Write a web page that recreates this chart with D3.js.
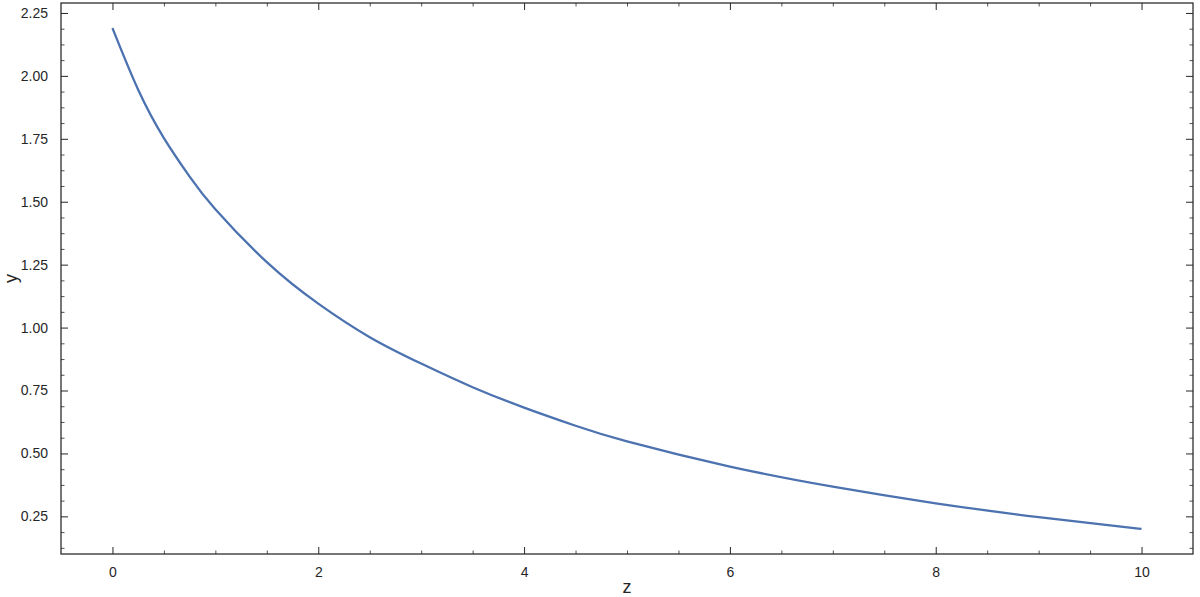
<!DOCTYPE html>
<html>
<head>
<meta charset="utf-8">
<script src="https://cdn.jsdelivr.net/npm/d3@7"></script>
<style>
  body { margin: 0; background: #fff; }
  svg { display: block; font-family: "Liberation Sans", Arial, sans-serif; }
</style>
</head>
<body>
<div id="chart"></div>
<script>
// values
const zValues = [0, 0.25, 0.5, 0.75, 1, 1.5, 2, 2.5, 3, 3.5, 4, 4.5, 5, 6, 7, 8, 9, 10];
const yValues = [2.19, 1.945, 1.753, 1.6, 1.47, 1.26, 1.095, 0.962, 0.857, 0.763, 0.682, 0.61, 0.548, 0.448, 0.368, 0.302, 0.247, 0.2];
const xTicks = [0, 2, 4, 6, 8, 10];
const yTicks = [0.25, 0.5, 0.75, 1.0, 1.25, 1.5, 1.75, 2.0, 2.25];

const size = { width: 1200, height: 597 };
const margin = { top: 3, right: 7, bottom: 43, left: 61 };
const textColor = "#262626";

const data = zValues.map((z, i) => ({ z, y: yValues[i] }));

const svg = d3
  .select("#chart")
  .append("svg")
  .attr("width", size.width)
  .attr("height", size.height);

// 5% padding like the original plot
const zExt = d3.extent(zValues);
const yExt = d3.extent(yValues);
const zPad = (zExt[1] - zExt[0]) * 0.05;
const yPad = (yExt[1] - yExt[0]) * 0.05;

const x = d3
  .scaleLinear()
  .domain([zExt[0] - zPad, zExt[1] + zPad])
  .range([margin.left, size.width - margin.right]);

const y = d3
  .scaleLinear()
  .domain([yExt[0] - yPad, yExt[1] + yPad])
  .range([size.height - margin.bottom, margin.top]);

const xMinor = d3.range(0, 10.01, 0.5).filter((d) => !xTicks.includes(d));
const yMinor = d3.range(0.125, 2.27, 0.0625).filter((d) => !yTicks.some((t) => Math.abs(t - d) < 1e-6));

const addAxis = (axisFn, scale, pos, ticks, minor, labels) => {
  const g = svg.append("g").attr("transform", pos);
  g.call(
    axisFn(scale)
      .tickValues(ticks)
      .tickSize(-7)
      .tickPadding(labels ? 13 : 0)
      .tickFormat(labels ? labels : () => "")
  );
  g.select(".domain").remove();
  g.selectAll(".tick line").attr("stroke", textColor).attr("stroke-width", 1);
  g.selectAll(".tick text")
    .attr("fill", textColor)
    .style("font-size", "14px");
  const m = svg.append("g").attr("transform", pos);
  m.call(axisFn(scale).tickValues(minor).tickSize(-3.5).tickFormat(() => ""));
  m.select(".domain").remove();
  m.selectAll(".tick line").attr("stroke", textColor).attr("stroke-width", 0.8);
  return g;
};

const bottomY = size.height - margin.bottom;
const rightX = size.width - margin.right;

addAxis(d3.axisBottom, x, `translate(0,${bottomY})`, xTicks, xMinor, (d) => d3.format("d")(d));
addAxis(d3.axisTop, x, `translate(0,${margin.top})`, xTicks, xMinor, null);
addAxis(d3.axisLeft, y, `translate(${margin.left},0)`, yTicks, yMinor, (d) => d3.format(".2f")(d));
addAxis(d3.axisRight, y, `translate(${rightX},0)`, yTicks, yMinor, null);

// frame
svg
  .append("rect")
  .attr("x", margin.left)
  .attr("y", margin.top)
  .attr("width", rightX - margin.left)
  .attr("height", bottomY - margin.top)
  .attr("fill", "none")
  .attr("stroke", textColor)
  .attr("stroke-width", 1.25);

const line = d3
  .line()
  .x((d) => x(d.z))
  .y((d) => y(d.y))
  .curve(d3.curveNatural);

svg
  .append("path")
  .datum(data)
  .attr("d", line)
  .attr("fill", "none")
  .attr("stroke", "#4c72b0")
  .attr("stroke-width", 2.3);

svg
  .append("text")
  .text("z")
  .attr("x", (margin.left + rightX) / 2)
  .attr("y", 593)
  .attr("text-anchor", "middle")
  .attr("fill", textColor)
  .style("font-size", "18px");

svg
  .append("text")
  .text("y")
  .attr("transform", `translate(17,${(margin.top + bottomY) / 2}) rotate(-90)`)
  .attr("text-anchor", "middle")
  .attr("fill", textColor)
  .style("font-size", "18px");
</script>
</body>
</html>
